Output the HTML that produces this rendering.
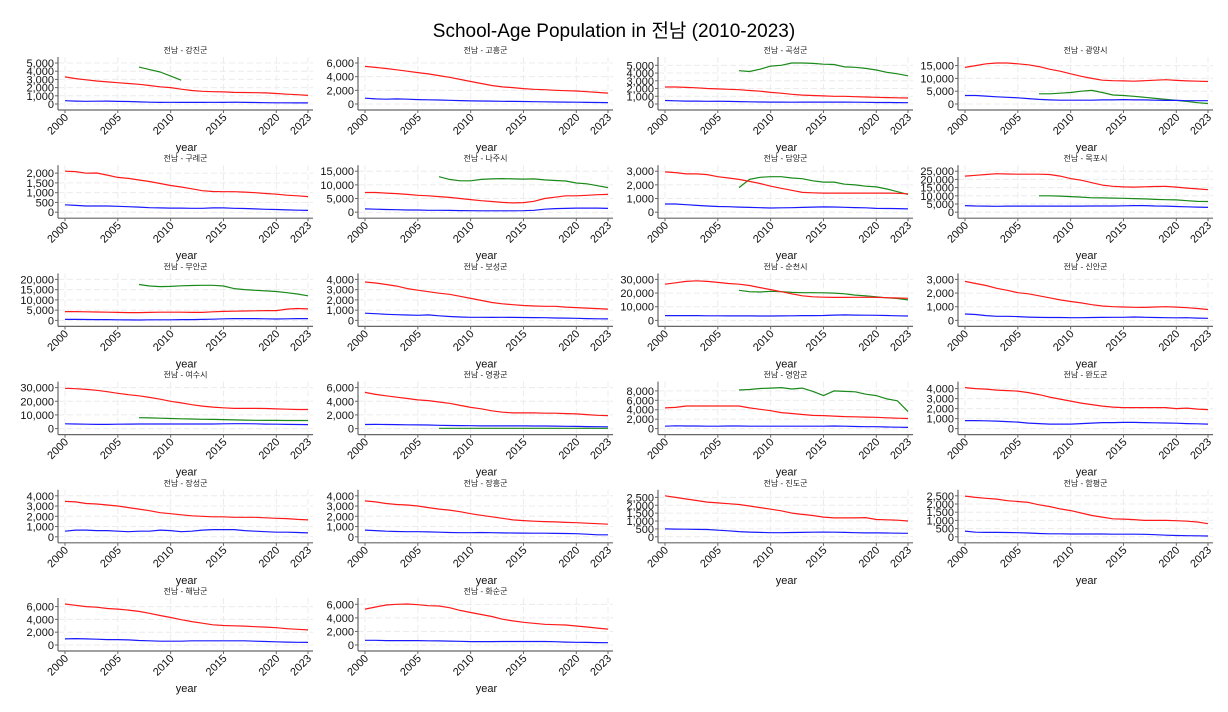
<!DOCTYPE html>
<html><head><meta charset="utf-8">
<style>
html,body{margin:0;padding:0;background:#fff;}
svg{display:block;font-family:"Liberation Sans","Noto Sans CJK KR",sans-serif;}
</style></head>
<body>
<svg id="chart" width="1228" height="712" viewBox="0 0 1228 712">
<text x="614" y="37" text-anchor="middle" font-size="19" fill="#000">School-Age Population in 전남 (2010-2023)</text>
</svg>
<script>
const years = [2000,2001,2002,2003,2004,2005,2006,2007,2008,2009,2010,2011,2012,2013,2014,2015,2016,2017,2018,2019,2020,2021,2022,2023];
const xTicks = [2000,2005,2010,2015,2020,2023];
const regions = ["강진군","고흥군","곡성군","광양시","구례군","나주시","담양군","목포시","무안군","보성군","순천시","신안군","여수시","영광군","영암군","완도군","장성군","장흥군","진도군","함평군","해남군","화순군"];
const tickSteps = [1000,2000,1000,5000,500,5000,1000,5000,5000,1000,10000,1000,10000,2000,2000,1000,1000,1000,500,500,2000,2000];
const tickMaxes = [5000,6000,5000,15000,2000,15000,3000,25000,20000,4000,30000,3000,30000,6000,8000,4000,4000,4000,2500,2500,6000,6000];
const greenStart = 2007;
const redSeries = [
[3300,3100,2950,2800,2700,2600,2500,2400,2250,2100,2000,1800,1650,1550,1500,1480,1420,1400,1380,1350,1280,1200,1130,1050],
[5500,5350,5200,5000,4800,4600,4400,4150,3900,3600,3300,3000,2700,2500,2400,2250,2150,2100,2000,1950,1900,1800,1700,1600],
[2200,2200,2150,2100,2000,1950,1900,1850,1750,1650,1500,1400,1250,1150,1100,1050,1000,1000,950,900,870,830,800,780],
[14300,15000,15700,16000,16000,15700,15300,14600,13600,12800,11800,10800,10000,9300,9100,9000,8900,9100,9300,9500,9200,9000,8900,8800],
[2100,2080,2000,2010,1900,1780,1730,1650,1570,1470,1370,1290,1200,1100,1060,1050,1050,1030,1000,960,920,870,840,800],
[7200,7200,7000,6800,6500,6200,6000,5700,5400,5000,4600,4200,3900,3600,3400,3500,4000,5000,5500,6000,6000,6200,6400,6500],
[2950,2900,2800,2800,2750,2600,2500,2400,2250,2100,1900,1750,1600,1450,1420,1400,1400,1400,1400,1400,1400,1400,1380,1350],
[22000,22500,23000,23500,23300,23200,23200,23200,23000,22000,20500,19500,18000,16500,15800,15400,15300,15500,15700,15800,15300,14700,14200,13700],
[4300,4300,4200,4100,4000,3900,3800,3800,3900,4000,4000,4000,3900,3900,4200,4400,4500,4600,4700,4800,4800,5500,5800,5600],
[3750,3650,3500,3350,3100,2950,2800,2650,2550,2350,2150,1950,1750,1620,1530,1450,1400,1380,1380,1300,1250,1200,1150,1100],
[26500,27500,28500,29000,28500,27800,27000,26500,25500,24000,22500,21000,19500,18000,17300,17000,16800,16800,16900,17000,16800,16600,16400,16200],
[2850,2700,2550,2350,2200,2030,1950,1800,1650,1500,1380,1280,1150,1050,1000,980,960,950,980,1000,970,930,870,800],
[29500,29200,28700,28000,27000,25800,24800,24000,22800,21500,20000,18800,17500,16500,15700,15200,14800,14800,14800,14700,14400,14200,14000,14000],
[5300,5000,4800,4600,4400,4200,4100,3900,3700,3400,3100,2900,2600,2400,2300,2300,2300,2250,2250,2200,2150,2050,1950,1900],
[4400,4500,4800,4800,4800,4800,4800,4800,4400,4100,3800,3400,3200,3000,2800,2750,2650,2550,2500,2450,2400,2300,2200,2150],
[4100,4000,3950,3850,3800,3750,3600,3400,3150,2950,2750,2550,2400,2250,2150,2100,2100,2100,2100,2100,2000,2050,1950,1900],
[3450,3400,3250,3200,3100,3000,2850,2700,2550,2350,2250,2150,2050,2000,1950,1950,1900,1900,1900,1850,1800,1780,1700,1650],
[3500,3400,3250,3150,3100,3000,2850,2700,2600,2450,2250,2100,1950,1800,1650,1580,1520,1480,1450,1400,1380,1330,1280,1230],
[2600,2500,2400,2300,2200,2150,2100,2050,1950,1850,1750,1650,1500,1420,1350,1250,1200,1200,1200,1220,1100,1080,1050,1000],
[2480,2400,2350,2300,2200,2150,2100,1950,1850,1700,1600,1450,1300,1200,1100,1080,1050,1000,1000,1000,980,950,900,800],
[6400,6200,6000,5900,5700,5600,5450,5250,4950,4600,4300,3950,3650,3400,3150,3050,3000,2950,2850,2800,2700,2550,2450,2350],
[5300,5600,5900,6000,6050,5950,5800,5750,5500,5100,4800,4500,4200,3800,3550,3350,3200,3050,3000,2950,2800,2650,2500,2350]
];
const blueSeries = [
[400,350,330,340,350,320,300,260,220,200,210,200,200,200,210,200,220,200,180,160,150,150,140,130],
[850,750,700,750,700,650,620,580,540,500,450,440,420,400,380,360,340,320,300,280,260,240,220,200],
[450,420,380,370,350,360,330,310,280,260,250,240,230,240,250,250,240,240,230,220,200,190,180,170],
[3300,3300,3100,2800,2600,2400,2100,1800,1600,1500,1500,1500,1500,1600,1600,1700,1600,1600,1500,1400,1400,1300,1300,1300],
[380,350,320,320,320,300,280,260,230,220,210,210,200,200,220,220,200,190,170,150,140,120,100,90],
[1200,1100,1000,900,800,800,700,700,650,600,550,500,500,500,500,550,700,1100,1300,1400,1500,1500,1500,1400],
[600,600,550,500,450,420,400,370,350,330,310,320,330,350,370,390,380,360,340,320,280,270,260,240],
[4000,3800,3700,3600,3700,3700,3700,3700,3700,3700,3700,3700,3800,3800,3800,3900,4000,4000,3800,3700,3500,3300,3100,2900],
[500,500,450,400,400,300,250,200,300,300,300,400,400,500,600,800,900,900,900,800,700,800,900,900],
[700,650,600,560,530,500,540,450,380,330,300,300,290,300,290,280,270,260,230,220,200,180,160,150],
[3500,3500,3500,3500,3400,3400,3300,3300,3300,3200,3200,3300,3400,3500,3500,3600,3900,4000,3900,3800,3700,3600,3400,3200],
[470,430,350,300,300,280,240,220,210,210,200,200,210,220,230,230,250,230,210,200,190,200,170,150],
[3500,3400,3200,3100,3100,3200,3300,3400,3400,3400,3400,3400,3400,3400,3400,3500,3600,3600,3500,3300,3200,3100,3000,2900],
[600,620,600,580,560,540,520,480,460,440,420,400,400,400,400,400,380,380,360,340,320,300,280,260],
[500,600,550,550,500,500,550,550,500,500,500,500,500,500,500,500,550,500,450,400,400,350,300,250],
[800,800,780,750,700,650,550,500,450,450,450,500,550,600,600,620,620,600,580,560,540,500,480,450],
[550,650,650,600,600,550,500,550,550,650,600,500,550,650,700,700,700,600,550,500,450,450,420,380],
[650,600,550,520,500,500,480,450,420,400,400,420,400,380,370,360,350,350,330,320,300,250,200,200],
[500,490,480,470,460,420,380,330,300,280,260,260,270,280,290,300,290,280,260,250,250,240,230,220],
[350,280,270,270,260,250,230,200,180,180,170,170,170,170,160,160,160,150,130,100,80,70,60,50],
[950,1000,950,900,850,850,800,700,650,600,600,600,650,650,650,650,650,650,600,550,500,450,420,400],
[700,700,650,650,650,650,620,600,580,550,500,500,500,520,520,520,520,520,480,430,400,380,360,340]
];
const greenSeries = [
[4500,4200,3900,3400,2900],
[],
[4300,4200,4500,4900,5000,5300,5300,5250,5150,5100,4800,4750,4600,4400,4100,3900,3650],
[4000,4000,4200,4500,5000,5300,4500,3500,3300,3000,2600,2200,1800,1400,1000,500,200],
[],
[13000,12000,11500,11500,12000,12200,12300,12200,12100,12200,11800,11600,11400,10700,10400,9700,9000],
[1800,2400,2550,2600,2600,2500,2450,2300,2200,2200,2050,2000,1900,1850,1700,1500,1300],
[10000,10000,9800,9500,9200,8800,8700,8600,8500,8300,8100,7800,7600,7500,7000,6600,6500],
[17500,16800,16500,16600,16900,17000,17100,17100,16800,15500,15000,14700,14400,14100,13500,12900,12000],
[],
[22000,21000,20800,21300,21000,20500,20300,20300,20200,20000,19500,18500,18000,17200,16500,16000,15000],
[],
[8000,7800,7600,7400,7200,7000,6800,6700,6600,6400,6200,6100,6000,6000,5900,5900,5900],
[40,40,40,40,40,40,40,40,40,40,40,40,40,40,40,40,40],
[8200,8300,8500,8600,8700,8400,8600,7900,7000,8000,7900,7800,7300,7000,6300,5900,3600],
[],[],[],[],[],[],[]
];

const NS = "http://www.w3.org/2000/svg";
const svg = document.getElementById("chart");
function mk(tag, attrs, parent){
  const e = document.createElementNS(NS, tag);
  for (const k in attrs) e.setAttribute(k, attrs[k]);
  (parent||svg).appendChild(e);
  return e;
}
function fmt(v){ return v.toLocaleString("en-US"); }

regions.forEach(function(name, i){
  const r = Math.floor(i/4), c = i%4;
  const ty = 50 + r*108.2;
  const x0 = 65 + 300*c, x1 = 308 + 300*c;
  const g = mk("g", {});
  
  
  const dataMax = Math.max.apply(null, redSeries[i].concat(blueSeries[i], greenSeries[i]));
  const top = Math.max(tickMaxes[i], dataMax);
  const xs = function(yr){ return x0 + (yr-2000)/(2023-2000)*(x1-x0); };
  const ys = function(v){ return ty + 54 - v/top*41; };
  const left = x0 - 7, right = x1 + 5;
  // grid
  for (let v = 0; v <= tickMaxes[i]; v += tickSteps[i]) {
    const gl = mk("line", {x1:left, x2:right, y1:ys(v), y2:ys(v), stroke:"#ececec", "stroke-width":1, "stroke-dasharray":"6,3"}, g);
    
    
  }
  xTicks.forEach(function(yr){
    const gl = mk("line", {x1:xs(yr), x2:xs(yr), y1:ty+7, y2:ty+60, stroke:"#ececec", "stroke-width":1, "stroke-dasharray":"6,3"}, g);
    
    
  });
  // title
  const t = mk("text", {x:(left+right)/2, y:ty+3, "text-anchor":"middle", "font-size":8, fill:"#222"}, g);
  t.textContent = "전남 - " + name;
  
  
  // axes
  const ya = mk("line", {x1:left, x2:left, y1:ty+7, y2:ty+60, stroke:"#666", "stroke-width":1.2}, g);
  
  
  const xa = mk("line", {x1:left, x2:right, y1:ty+60, y2:ty+60, stroke:"#666", "stroke-width":1.2}, g);
  
  
  for (let v = 0; v <= tickMaxes[i]; v += tickSteps[i]) {
    const tk = mk("line", {x1:left-3, x2:left, y1:ys(v), y2:ys(v), stroke:"#666"}, g);
    
    
    const tl = mk("text", {x:left-4, y:ys(v)+4, "text-anchor":"end", "font-size":11, fill:"#111"}, g);
    tl.textContent = fmt(v);
    
    
  }
  xTicks.forEach(function(yr){
    const tk = mk("line", {x1:xs(yr), x2:xs(yr), y1:ty+60, y2:ty+63, stroke:"#666"}, g);
    
    
    const tl = mk("text", {x:xs(yr)+4, y:ty+68, "text-anchor":"end", "font-size":11, fill:"#111", transform:"rotate(-45 "+(xs(yr)+4)+" "+(ty+68)+")"}, g);
    tl.textContent = String(yr);
    
    
  });
  const xl = mk("text", {x:(x0+x1)/2, y:ty+101, "text-anchor":"middle", "font-size":11, fill:"#111"}, g);
  xl.textContent = "year";
  
  
  // series
  function line(vals, startYear, color, nm){
    if (!vals.length) return;
    const pts = vals.map(function(v, k){ return xs(startYear+k).toFixed(1)+","+ys(v).toFixed(1); }).join(" ");
    const pl = mk("polyline", {points:pts, fill:"none", stroke:color, "stroke-width":1.2, "stroke-linejoin":"round"}, g);
    
    
  }
  line(greenSeries[i], greenStart, "#1a8a1a", "green-series-line");
  line(redSeries[i], years[0], "#ff1a1a", "red-series-line");
  line(blueSeries[i], years[0], "#1a1aff", "blue-series-line");
});
</script>
</body></html>
